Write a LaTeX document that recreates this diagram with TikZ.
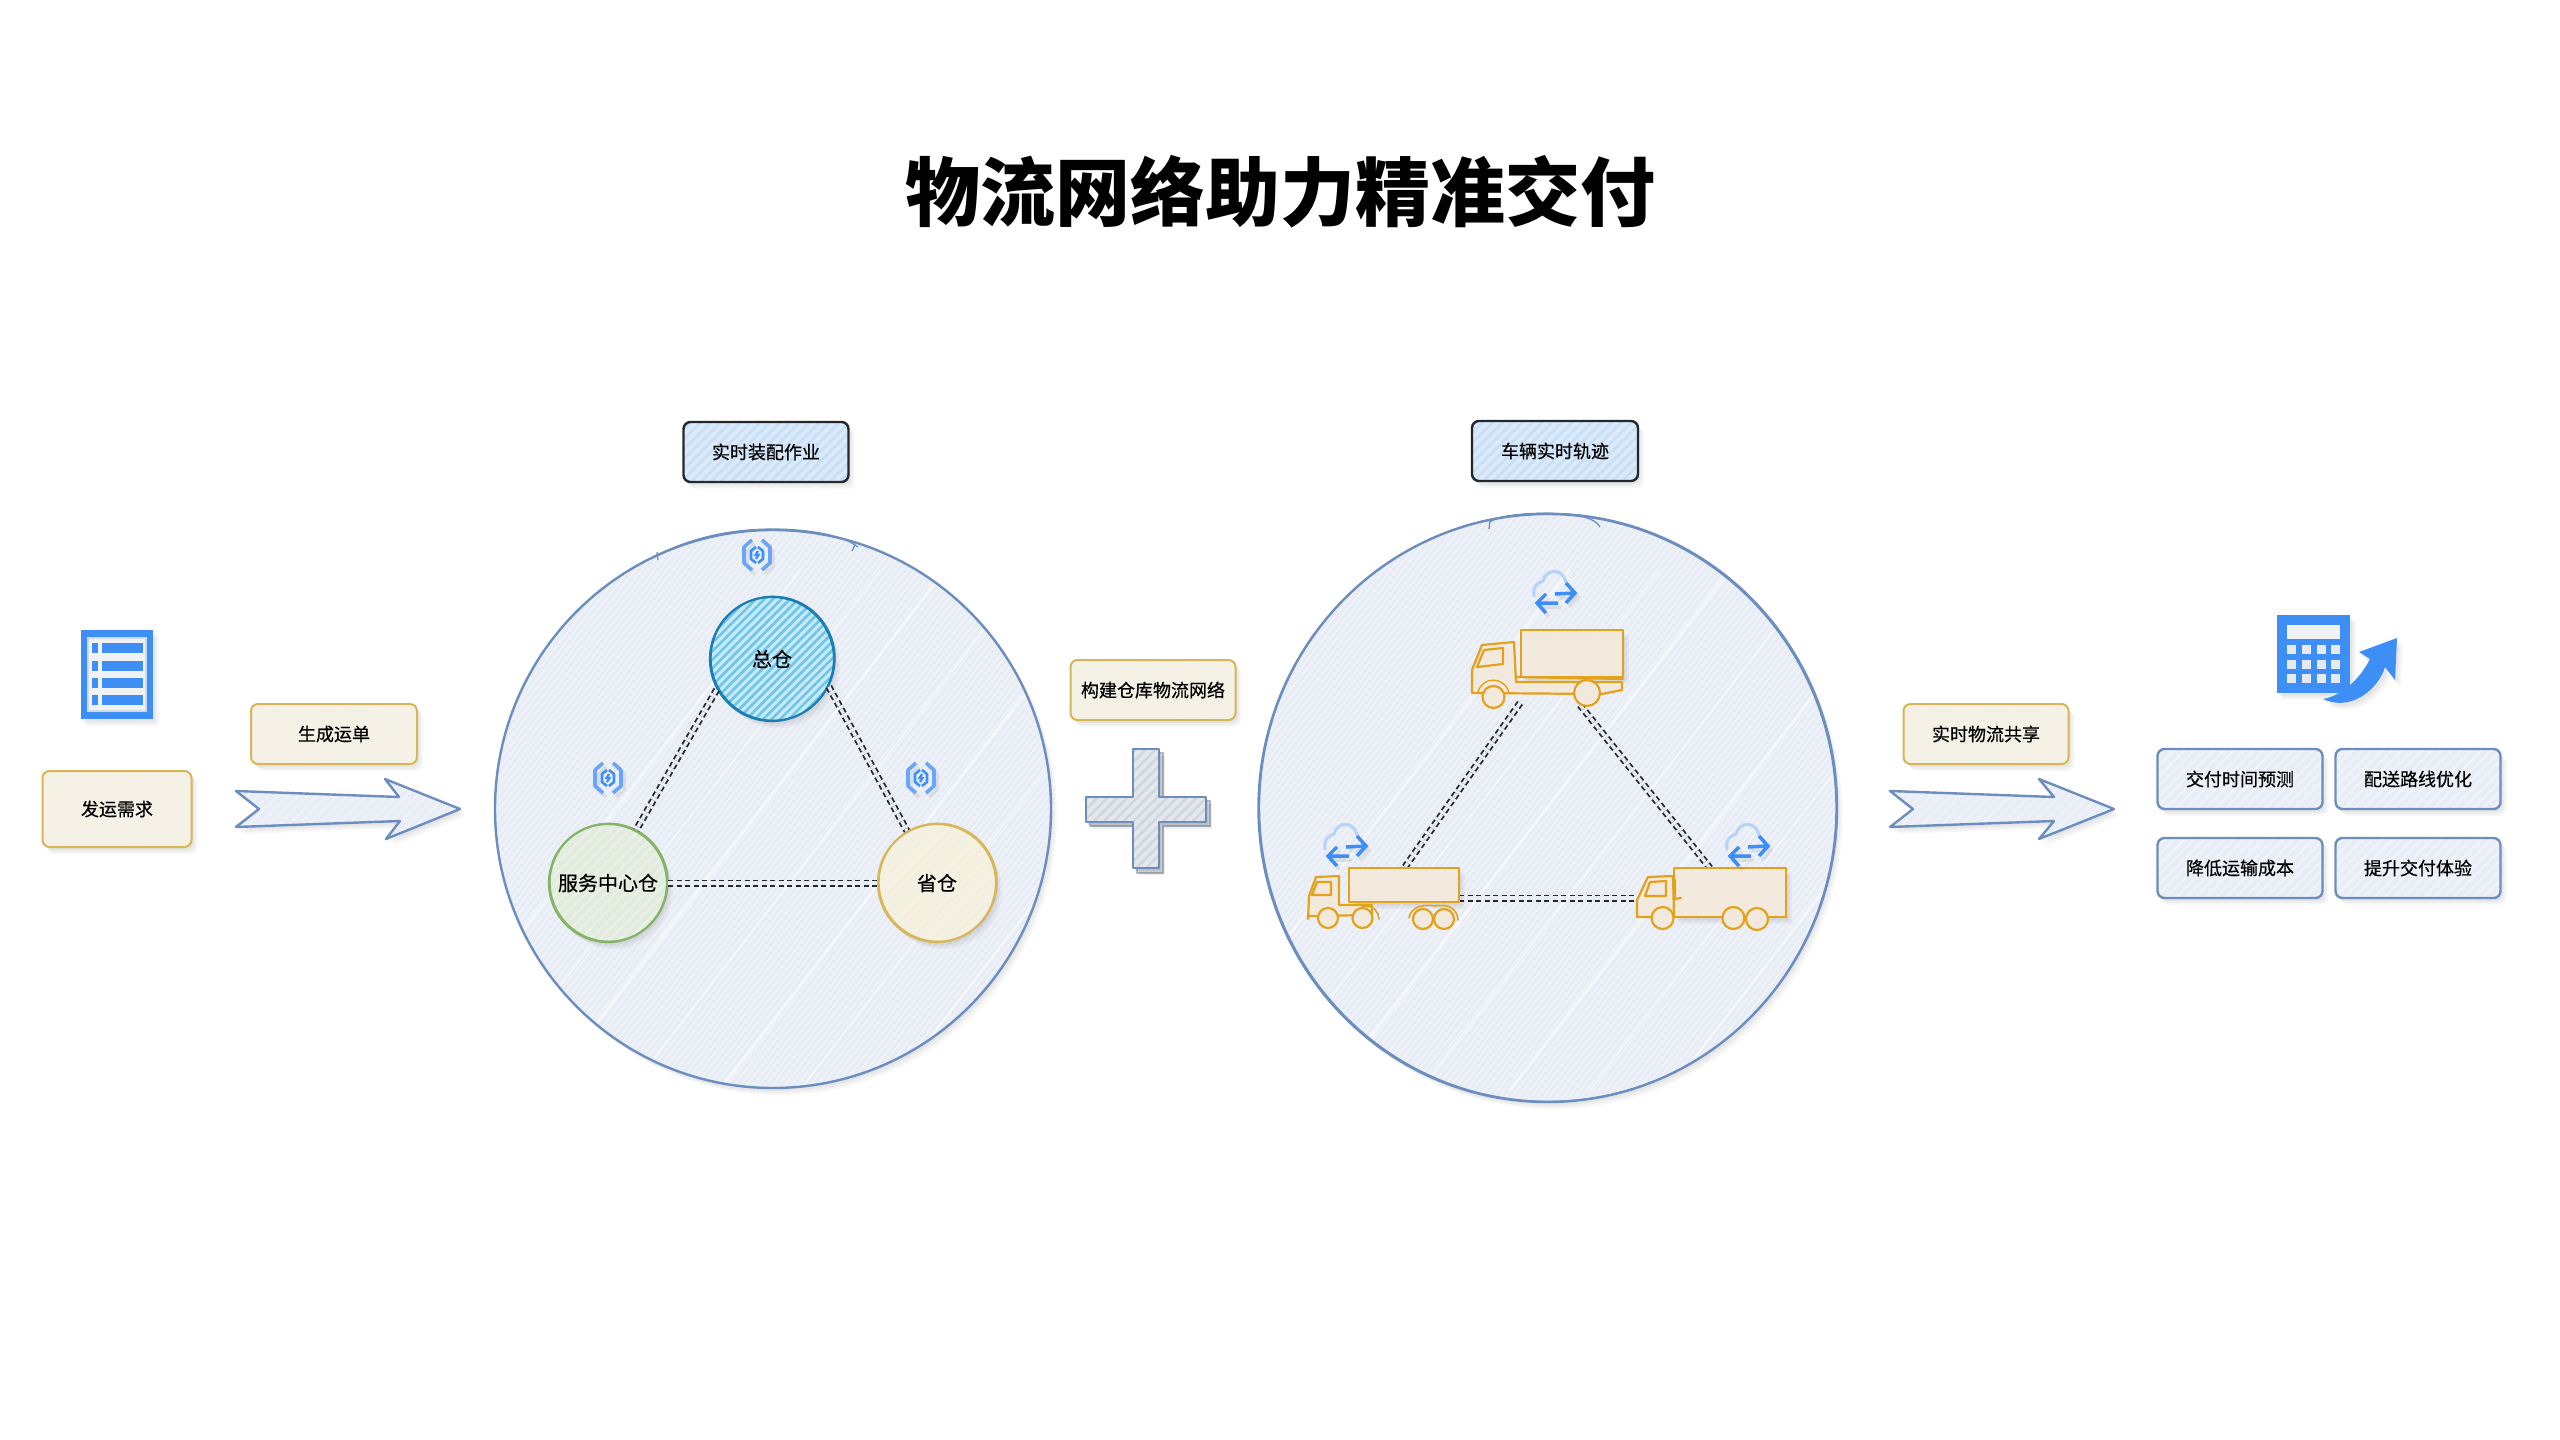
\documentclass[tikz,border=0pt]{standalone}
\usepackage{fontspec}
\setmainfont{Noto Sans CJK SC}
\newfontfamily\labfont[FakeBold=0.5]{Noto Sans CJK SC}
\usetikzlibrary{patterns.meta,shapes.geometric}
\newcommand{\hexc}[1]{\definecolor{#1}{HTML}{#1}}
\definecolor{bl}{HTML}{3D8EF5}
\definecolor{blt}{HTML}{B4D2FA}
\definecolor{sk}{HTML}{6C8EBF}
\definecolor{ye}{HTML}{D6B656}
\definecolor{gr}{HTML}{82B366}
\definecolor{tr}{HTML}{E2A21C}
\definecolor{core}{HTML}{E8ECF5}
\definecolor{dk}{HTML}{23272E}
\hexc{F2F1EB}\hexc{F8F2DC}\hexc{DCE9F8}\hexc{C6DFF8}\hexc{E9EDF6}\hexc{F1F4FA}\hexc{F4F6FA}\hexc{E8EDF6}\hexc{EFF2F8}\hexc{F0E9E2}\hexc{F8E9D4}\hexc{6AA5F8}\hexc{F0F2F6}\hexc{D4D8E0}\hexc{1B7DB2}\hexc{C9E9F6}\hexc{6CC6E9}\hexc{E2EBE0}\hexc{EBF2E3}\hexc{F1F0E6}\hexc{F9F2D8}\hexc{9AA3B0}\hexc{E4E7EE}\hexc{D0D5DE}\hexc{E6E9EF}
\tikzset{
  softsh/.style={
    preaction={fill=black,fill opacity=.035,draw=none,transform canvas={shift={(2pt,-3pt)}}},
    preaction={fill=black,fill opacity=.035,draw=none,transform canvas={shift={(4pt,-5pt)}}},
    preaction={fill=black,fill opacity=.03,draw=none,transform canvas={shift={(6pt,-7pt)}}}},
  hatch/.style n args={3}{softsh,preaction={fill=#1},pattern={Lines[angle=#3,distance=7pt,line width=2.4pt]},pattern color=#2},
  label box/.style={rectangle,rounded corners=7pt,inner sep=0pt,line width=2pt,
    minimum width=#1,minimum height=60pt,font=\labfont\fontsize{18pt}{20pt}\selectfont,text=black},
  yellowbox/.style={label box=#1,draw=ye,hatch={F2F1EB}{F8F2DC}{45}},
  blackbox/.style={label box=#1,draw=dk,line width=2.4pt,hatch={DCE9F8}{C6DFF8}{45}},
  bluebox/.style={label box=#1,draw=sk,line width=2.4pt,hatch={E9EDF6}{F1F4FA}{45}},
  bigdisc/.style={ellipse,inner sep=0pt,draw=sk,line width=2.4pt,
    softsh,preaction={fill=core},pattern={Lines[angle=52,distance=5pt,line width=1pt]},pattern color=F4F6FA},
  sketchy/.style={postaction={draw,line width=1pt,transform canvas={shift={(1.2pt,.8pt)}}}},
  hub/.style={circle,inner sep=0pt,line width=2.2pt,font=\labfont\fontsize{20pt}{22pt}\selectfont,text=black,sketchy},
  link/.style={draw=dk,line width=1.8pt,double=core,double distance=3.4pt,dash pattern=on 5pt off 3.5pt},
  flow/.style={draw=sk,line width=2.4pt,line join=round,hatch={E8EDF6}{EFF2F8}{45}},
  trk/.style={draw=tr,line width=2.2pt,line join=round,line cap=round},
  trkf/.style={trk,preaction={fill=F0E9E2},pattern={Lines[angle=45,distance=7pt,line width=2pt]},pattern color=F8E9D4},
  streak/.style={draw=white,opacity=.55,line width=#1},
  ringa/.style={draw=#1,line width=3.6pt,line join=round},
}
\newcommand{\syncicon}[2]{\begin{scope}[shift={(#1,#2)}]
  \draw[ringa=black,opacity=.07,shift={(3,4)}] (-5,-15)--(-13,-8)--(-13,8)--(-5,15) (5,-15)--(13,-8)--(13,8)--(5,15);
  \draw[ringa=6AA5F8] (-5,-15)--(-13,-8)--(-13,8)--(-5,15) (5,-15)--(13,-8)--(13,8)--(5,15);
  \draw[bl,line width=2.6pt,line join=round] (-1,-8)--(-6,-4)--(-6,4)--(-1,8) (1,-8)--(6,-4)--(6,4)--(1,8);
  \draw[bl,line width=2.2pt] (1,-4) -- (-1.5,0) -- (1.5,0) -- (-1,4);
\end{scope}}
\newcommand{\cloudicon}[2]{\begin{scope}[shift={(#1,#2)}]
  \draw[blt,line width=3pt,line cap=round] (-21,4) .. controls (-23,-7) and (-15,-10) .. (-12,-11)
     .. controls (-9,-24) and (8,-24) .. (11,-10);
  \draw[black,opacity=.07,line width=3.5pt,shift={(3,4)}] (0,2)--(20,1) (11,-9)--(20,1)--(11,11) (3,11)--(-17,11) (-9,2)--(-18,11)--(-9,21);
  \draw[bl,line width=3.5pt,line join=miter] (0,2)--(20,1) (11,-9)--(20,1)--(11,11) (3,11)--(-17,11) (-9,2)--(-18,11)--(-9,21);
\end{scope}}
\begin{document}
\begin{tikzpicture}[x=1pt,y=-1pt]
\useasboundingbox[fill=white] (0,0) rectangle (2560,1440);
\node (title) at (1280,192) {\fontsize{75pt}{80pt}\selectfont\bfseries 物流网络助力精准交付};

% document icon
\path[softsh,fill=bl] (81,630) rectangle (153,719);
\fill[F0F2F6] (87,637) rectangle (147,712);
\draw[D4D8E0,line width=1.2pt] (88,638) rectangle (146,711);
\foreach \yy in {643,661,678,695}{
  \fill[bl] (92,\yy) rectangle (98,\yy+10);
  \fill[bl] (102,\yy) rectangle (143,\yy+10);
}

\node[yellowbox=149pt,minimum height=76pt] (need) at (117,809) {发运需求};
\node[yellowbox=166pt] (order) at (334,734) {生成运单};
\draw[flow] (236,791)--(399,797)--(385,779)--(460,809)--(386,839)--(400,821)--(236,827)--(259,809)--cycle;

% left disc
\node[blackbox=165pt] (job) at (766,452) {实时装配作业};
\node[bigdisc,minimum width=556pt,minimum height=558pt] (d1) at (773,809) {};
\begin{scope}
  \clip (773,809) ellipse (276 and 277);
  \foreach \ox/\wd in {560/2.5,640/1.5,705/3,790/2,880/3,960/1.6,1050/2.5}{
    \draw[streak=\wd pt] (\ox-160,1090)--(\ox+240,570);
  }
\end{scope}
\draw[sk,line width=1.2pt] (656,556) .. controls (690,538) and (730,529) .. (773,529)
   .. controls (800,529) and (840,533) .. (858,547);
\draw[sk,line width=1.2pt] (657,552)--(658,560) (855,545)--(852,551);
\node[hub,minimum size=124pt,draw=1B7DB2,hatch={C9E9F6}{6CC6E9}{45},pattern={Lines[angle=45,distance=6pt,line width=2.6pt]}] (hq) at (772,659) {总仓};
\node[hub,minimum size=118pt,draw=gr,hatch={E2EBE0}{EBF2E3}{45}] (svc) at (608,883) {服务中心仓};
\node[hub,minimum size=118pt,draw=ye,hatch={F1F0E6}{F9F2D8}{45}] (prov) at (937,883) {省仓};
\draw[link] (hq.209)--(svc.62);
\draw[link] (hq.334)--(prov.120);
\draw[link] (svc.east)--(prov.west);
\syncicon{757}{555}
\syncicon{608}{778}
\syncicon{921}{778}

% plus
\node[yellowbox=165pt] (build) at (1153,690) {构建仓库物流网络};
\path[draw=9AA3B0,line width=2.4pt,fill=black,fill opacity=.06,draw opacity=.7]
  (1137,753)--(1163,753)--(1163,801)--(1210,801)--(1210,826)--(1163,826)--(1163,873)--(1137,873)--(1137,826)--(1090,826)--(1090,801)--(1137,801)--cycle;
\path[flow,hatch={E4E7EE}{D0D5DE}{45}]
  (1133,749)--(1159,749)--(1159,797)--(1206,797)--(1206,822)--(1159,822)--(1159,868)--(1133,868)--(1133,822)--(1086,822)--(1086,797)--(1133,797)--cycle;

% right disc
\node[blackbox=166pt] (track) at (1555,451) {车辆实时轨迹};
\node[bigdisc,minimum width=578pt,minimum height=588pt,sketchy] (d2) at (1547.5,808) {};
\begin{scope}
  \clip (1547.5,808) ellipse (286 and 291);
  \foreach \ox/\wd in {1330/2.5,1420/1.5,1490/3,1580/2,1670/3,1750/1.6,1830/2.5}{
    \draw[streak=\wd pt] (\ox-160,1090)--(\ox+240,570);
  }
\end{scope}
\draw[sk,line width=1.3pt] (1490,522) .. controls (1500,514) and (1540,512) .. (1560,514)
   .. controls (1580,515) and (1595,518) .. (1600,527);
\draw[sk,line width=1.3pt] (1490,520)--(1489,529);

\coordinate (t1l) at (1520,703);
\coordinate (t1r) at (1580,705);
\coordinate (t2t) at (1405,867);
\coordinate (t2r) at (1459,898);
\coordinate (t3t) at (1710,868);
\coordinate (t3l) at (1637,898);
\draw[link] (t1l)--(t2t);
\draw[link] (t1r)--(t3t);
\draw[link] (t2r)--(t3l);

% top truck
\path[softsh,trkf] (1521,630) rectangle (1623,677);
\path[trkf] (1472,692)--(1472,670)--(1482,645)--(1514,642)--(1516,682)--(1622,682)--(1622,690)--(1602,694)--(1472,693)--cycle;
\draw[trk] (1516,677)--(1623,679);
\path[trkf] (1484,650)--(1503,648)--(1503,664)--(1477,667)--cycle;
\path[trkf] (1493.5,697) circle (11);
\path[trkf] (1587,693) circle (13);
\draw[trk,line width=1.4pt] (1478,692) .. controls (1482,676) and (1505,676) .. (1509,693);
\cloudicon{1555}{592}

% left truck
\path[softsh,trkf] (1349,868) rectangle (1459,902);
\path[trkf] (1308,919)--(1309,896)--(1316,877)--(1339,876)--(1339,905)--(1372,905)--(1372,915)--(1308,916)--cycle;
\path[trkf] (1317,882)--(1331,882)--(1331,895)--(1312,895)--cycle;
\path[trkf] (1328,918) circle (10);
\path[trkf] (1362.5,918) circle (10);
\path[trkf] (1423,919) circle (10);
\path[trkf] (1444,919) circle (10);
\draw[trk,line width=1.6pt] (1362,906) .. controls (1375,905) and (1378,912) .. (1379,919);
\draw[trk,line width=1.6pt] (1409,918) .. controls (1411,906) and (1425,904) .. (1435,906) .. controls (1448,904) and (1457,908) .. (1458,920);
\cloudicon{1346}{845}

% right truck
\path[softsh,trkf] (1674,868) rectangle (1786,917);
\path[trkf] (1637,917)--(1637,900)--(1648,877)--(1673,876)--(1674,917)--cycle;
\draw[trk] (1637,917)--(1786,917);
\draw[trk] (1675,880)--(1675,899)--(1681,898);
\path[trkf] (1650,882)--(1666,881)--(1666,896)--(1645,896)--cycle;
\path[trkf] (1662.6,918) circle (11);
\path[trkf] (1733.4,918) circle (11);
\path[trkf] (1757,919) circle (11);
\cloudicon{1748}{845}

% right flow
\node[yellowbox=165pt] (share) at (1986,734) {实时物流共享};
\draw[flow] (1890,791)--(2054,797)--(2039,779)--(2114,809)--(2039,839)--(2054,821)--(1890,827)--(1913,809)--cycle;

% calculator
\path[softsh,fill=bl] (2277,615) rectangle (2350,693);
\fill[F0F2F6] (2287,625) rectangle (2340,639);
\foreach \cx in {2287,2302,2317,2331}{\foreach \cy in {645,660,674}{
  \fill[E6E9EF] (\cx,\cy) rectangle (\cx+9,\cy+9);
}}
\path[softsh,fill=bl] (2323,699) .. controls (2345,695) and (2362,675) .. (2370,659)
  --(2359,652)--(2397,638)--(2395,680)--(2385,667)
  .. controls (2378,690) and (2350,712) .. (2323,699) -- cycle;

% results
\node[bluebox=165pt] (r1) at (2240,779) {交付时间预测};
\node[bluebox=165pt] (r2) at (2418,779) {配送路线优化};
\node[bluebox=165pt] (r3) at (2240,868) {降低运输成本};
\node[bluebox=165pt] (r4) at (2418,868) {提升交付体验};
\end{tikzpicture}
\end{document}
